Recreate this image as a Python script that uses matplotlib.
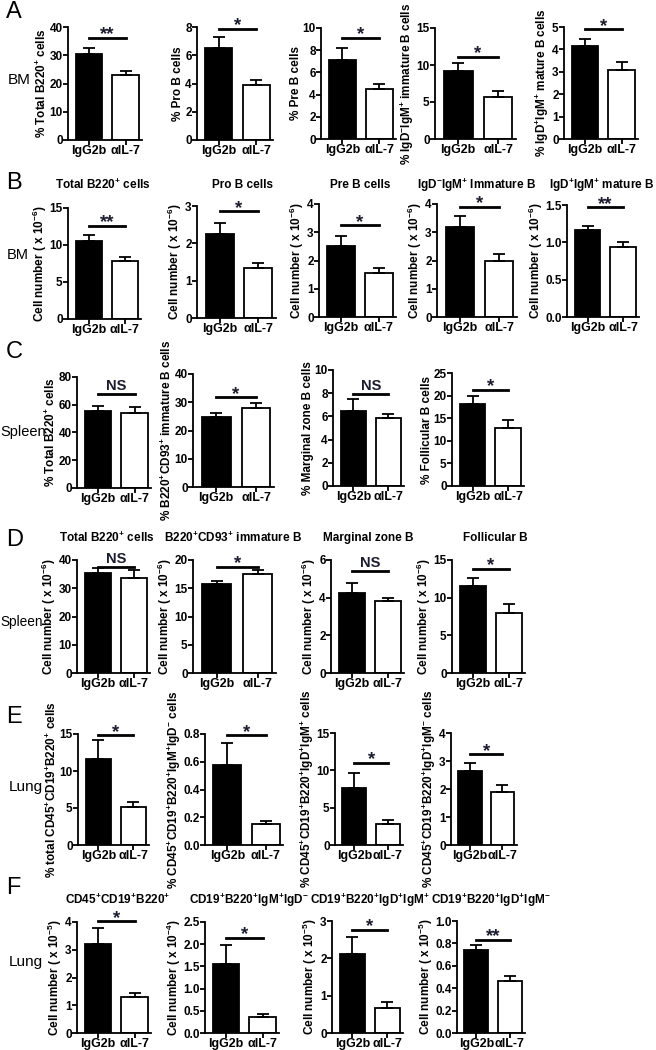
import numpy as np
import matplotlib
matplotlib.use("Agg")
import matplotlib.pyplot as plt
from matplotlib import font_manager

plt.rcParams["font.family"] = ["Liberation Sans", "DejaVu Sans"]
plt.rcParams["mathtext.fontset"] = "custom"
plt.rcParams["mathtext.rm"] = "Liberation Sans:bold"
plt.rcParams["mathtext.bf"] = "Liberation Sans:bold"
plt.rcParams["mathtext.default"] = "bf"

installed = {f.name for f in font_manager.fontManager.ttflist}
narrow = "Liberation Sans Narrow" if "Liberation Sans Narrow" in installed else "Liberation Sans"

groups = ["IgG2b", "αIL-7"]

# ---- row A: BM frequencies
ctrl_A = [30.6, 6.5, 7.1, 9.2, 4.15]
ctrl_err_A = [1.8, 0.8, 1.1, 1.1, 0.31]
il7_A = [23.0, 3.9, 4.5, 5.7, 3.1]
il7_err_A = [1.3, 0.35, 0.5, 0.8, 0.34]
sig_A = ["**", "*", "*", "*", "*"]
sig_y_A = [36.2, 7.85, 9.1, 11.1, 4.9]
ymax_A = [(40, 10), (8, 2), (10, 2), (15, 5), (5, 1)]
ylab_A = ["% Total B220$^{+}$ cells", "% Pro B cells", "% Pre B cells",
          "% IgD$^{-}$IgM$^{+}$ immature B cells", "% IgD$^{+}$IgM$^{+}$ mature B cells"]

# ---- row B: BM numbers
ctrl_B = [10.6, 2.25, 2.5, 3.2, 1.17]
ctrl_err_B = [0.7, 0.3, 0.38, 0.38, 0.05]
il7_B = [7.9, 1.33, 1.57, 1.98, 0.94]
il7_err_B = [0.45, 0.15, 0.18, 0.26, 0.07]
sig_B = ["**", "*", "*", "*", "**"]
sig_y_B = [12.6, 2.86, 3.24, 3.9, 1.47]
ymax_B = [(15, 5), (3, 1), (4, 1), (4, 1), (1.5, 0.5)]
title_B = ["Total B220$^{+}$ cells", "Pro B cells", "Pre B cells",
           "IgD$^{-}$IgM$^{+}$ Immature B", "IgD$^{+}$IgM$^{+}$ mature B"]

# ---- row C: spleen frequencies
ctrl_C = [55.4, 24.9, 6.5, 18.2]
ctrl_err_C = [3.6, 1.2, 1.0, 1.8]
il7_C = [53.7, 28.1, 5.9, 12.8]
il7_err_C = [4.7, 1.6, 0.3, 1.9]
sig_C = ["NS", "*", "NS", "*"]
sig_y_C = [67.4, 31.7, 7.9, 21.3]
ymax_C = [(80, 20), (40, 10), (10, 2), (25, 5)]
ylab_C = ["% Total B220$^{+}$ cells", "% B220$^{+}$CD93$^{+}$ immature B cells",
          "% Marginal zone B cells", "% Follicular B cells"]

# ---- row D: spleen numbers
ctrl_D = [35.3, 15.8, 4.23, 11.55]
ctrl_err_D = [2.0, 0.5, 0.57, 1.1]
il7_D = [33.8, 17.5, 3.8, 7.9]
il7_err_D = [2.7, 0.7, 0.17, 1.3]
sig_D = ["NS", "*", "NS", "*"]
sig_y_D = [37.6, 18.8, 5.4, 13.8]
ymax_D = [(40, 10), (20, 5), (6, 2), (15, 5)]
title_D = ["Total B220$^{+}$ cells", "B220$^{+}$CD93$^{+}$ immature B",
           "Marginal zone B", "Follicular B"]

# ---- row E: lung frequencies
ctrl_E = [11.66, 0.575, 7.65, 2.65]
ctrl_err_E = [2.54, 0.16, 2.0, 0.29]
il7_E = [5.2, 0.153, 2.76, 1.9]
il7_err_E = [0.67, 0.02, 0.58, 0.24]
sig_E = ["*", "*", "*", "*"]
sig_y_E = [14.8, 0.79, 11.0, 3.24]
ymax_E = [(15, 5), (0.8, 0.2), (15, 5), (4, 1)]
ylab_E = ["% total CD45$^{+}$CD19$^{+}$B220$^{+}$ cells",
          "% CD45$^{+}$CD19$^{+}$B220$^{+}$IgM$^{+}$IgD$^{-}$ cells",
          "% CD45$^{+}$CD19$^{+}$B220$^{+}$IgD$^{+}$IgM$^{+}$ cells",
          "% CD45$^{+}$CD19$^{+}$B220$^{+}$IgD$^{+}$IgM$^{-}$ cells"]

# ---- row F: lung numbers
ctrl_F = [3.19, 1.55, 2.11, 0.742]
ctrl_err_F = [0.6, 0.43, 0.47, 0.04]
il7_F = [1.28, 0.37, 0.67, 0.46]
il7_err_F = [0.15, 0.06, 0.15, 0.053]
sig_F = ["*", "*", "*", "**"]
sig_y_F = [4.02, 2.14, 2.76, 0.83]
ymax_F = [(4, 1), (2.5, 0.5), (3, 1), (1.0, 0.2)]
exp_F = ["-5", "-4", "-5", "-5"]
title_F = ["CD45$^{+}$CD19$^{+}$B220$^{+}$", "CD19$^{+}$B220$^{+}$IgM$^{+}$IgD$^{-}$",
           "CD19$^{+}$B220$^{+}$IgD$^{+}$IgM$^{+}$", "CD19$^{+}$B220$^{+}$IgD$^{+}$IgM$^{-}$"]

W, H = 656, 1050
fig = plt.figure(figsize=(W / 100, H / 100), dpi=100)


def px_rect(x0, x1, ytop, ybot):
    return [x0 / W, 1 - ybot / H, (x1 - x0) / W, (ybot - ytop) / H]


def ftext(x, y, s, **kw):
    fig.text(x / W, 1 - y / H, s, **kw)


def bar_panel(rect, c, ce, t, te, mark, sig_y, ym, ylabel=None):
    ax = fig.add_axes(px_rect(*rect))
    top, step = ym
    x = np.arange(2)
    ax.bar(x, [c, t], width=0.72, color=["black", "white"], edgecolor="black",
           linewidth=1.3, zorder=2)
    ax.errorbar(x, [c, t], yerr=[[0, 0], [ce, te]], fmt="none", ecolor="black",
                elinewidth=1.3, capsize=4.5, capthick=1.3, zorder=3)
    ax.plot([0, 1], [sig_y, sig_y], color="black", lw=2, clip_on=False)
    if mark == "NS":
        ax.annotate(mark, (0.5, sig_y), xytext=(0, 3), textcoords="offset points",
                    ha="center", va="baseline", fontsize=10.5, fontweight="bold",
                    color="#1c1c2e", annotation_clip=False)
    else:
        ax.annotate(mark, (0.5, sig_y), xytext=(0, -1), textcoords="offset points",
                    ha="center", va="baseline", fontsize=13.5, fontweight="bold",
                    color="#1c1c2e", annotation_clip=False)
    ax.set_xlim(-0.58, 1.45)
    ax.set_ylim(0, top)
    ticks = np.arange(0, top + step / 2, step)
    ax.set_yticks(ticks)
    if step < 1:
        ax.set_yticklabels([f"{v:.1f}" for v in ticks])
    else:
        ax.set_yticklabels([f"{v:g}" for v in ticks])
    ax.set_xticks(x)
    ax.set_xticklabels(groups)
    for s in ["top", "right"]:
        ax.spines[s].set_visible(False)
    for s in ["left", "bottom"]:
        ax.spines[s].set_linewidth(1.3)
    ax.tick_params(width=1.3, length=3.5, labelsize=8.5, pad=0.3)
    ax.tick_params(axis="x", labelsize=9)
    for lab in ax.get_xticklabels() + ax.get_yticklabels():
        lab.set_fontweight("bold")
    if ylabel:
        ax.set_ylabel(ylabel, fontsize=8.5, fontweight="bold", labelpad=0.5)
    return ax


rects_A = [(68, 142, 27, 140), (197, 273, 27, 140), (321, 396, 28, 139),
           (435, 516, 28, 139), (564, 638, 27, 139)]
rects_B = [(68, 141, 208, 319), (197, 276, 206, 318), (319, 396, 204, 317),
           (437, 517, 204, 317), (567, 639, 205, 317)]
rects_C = [(77, 151, 377, 488), (193, 274, 374, 487), (333, 404, 370, 486),
           (452, 524, 373, 486)]
rects_D = [(77, 150, 560, 673), (193, 276, 560, 673), (331, 404, 560, 673),
           (452, 525, 560, 673)]
rects_E = [(78, 149, 734, 845), (205, 283, 734, 845), (335, 403, 733, 845),
           (451, 517, 733, 845)]
rects_F = [(77, 151, 922, 1033), (205, 279, 922, 1033), (332, 403, 921, 1033),
           (457, 525, 921, 1033)]

for i, r in enumerate(rects_A):
    bar_panel(r, ctrl_A[i], ctrl_err_A[i], il7_A[i], il7_err_A[i], sig_A[i],
              sig_y_A[i], ymax_A[i], ylab_A[i])
title_x_B = [103, 243, 360, 477, 602]
for i, r in enumerate(rects_B):
    bar_panel(r, ctrl_B[i], ctrl_err_B[i], il7_B[i], il7_err_B[i], sig_B[i],
              sig_y_B[i], ymax_B[i], "Cell number ( x 10$^{-6}$)")
    ftext(title_x_B[i], 185, title_B[i], ha="center", va="center", fontsize=8.5,
          fontweight="bold")
for i, r in enumerate(rects_C):
    bar_panel(r, ctrl_C[i], ctrl_err_C[i], il7_C[i], il7_err_C[i], sig_C[i],
              sig_y_C[i], ymax_C[i], ylab_C[i])
title_x_D = [107, 233, 368, 495]
for i, r in enumerate(rects_D):
    bar_panel(r, ctrl_D[i], ctrl_err_D[i], il7_D[i], il7_err_D[i], sig_D[i],
              sig_y_D[i], ymax_D[i], "Cell number ( x 10$^{-6}$)")
    ftext(title_x_D[i], 538, title_D[i], ha="center", va="center", fontsize=8.5,
          fontweight="bold")
for i, r in enumerate(rects_E):
    bar_panel(r, ctrl_E[i], ctrl_err_E[i], il7_E[i], il7_err_E[i], sig_E[i],
              sig_y_E[i], ymax_E[i], ylab_E[i])
title_x_F = [118, 249, 370, 491]
for i, r in enumerate(rects_F):
    bar_panel(r, ctrl_F[i], ctrl_err_F[i], il7_F[i], il7_err_F[i], sig_F[i],
              sig_y_F[i], ymax_F[i], "Cell number ( x 10$^{%s}$)" % exp_F[i])
    ftext(title_x_F[i], 900, title_F[i], ha="center", va="center", fontsize=8.5,
          fontweight="bold")

# panel letters and tissue labels
for letter, y in zip("ABCDEF", [12, 183, 352, 540, 717, 888]):
    ftext(6, y, letter, ha="left", va="center", fontsize=17)
for name, x, y, fs in [("BM", 8, 80, 11), ("BM", 7, 255, 10.5), ("Spleen", 0, 432, 10.5),
                       ("Spleen", 0, 622, 9.8), ("Lung", 9, 787, 11), ("Lung", 9, 962, 11)]:
    ftext(x, y, name, ha="left", va="center", fontsize=fs, family=[narrow, "DejaVu Sans"])

fig.savefig("out.png", dpi=100, facecolor="white")
